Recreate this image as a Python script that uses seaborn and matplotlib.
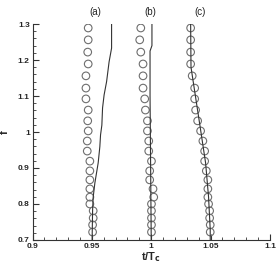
import matplotlib
matplotlib.use("Agg")
import matplotlib.pyplot as plt
import seaborn as sns
import pandas as pd
from matplotlib.ticker import MultipleLocator

sns.set_style("white")
plt.rcParams['font.family'] = ['Liberation Sans', 'DejaVu Sans']

# circle data (shared f levels)
f_circ = [1.289, 1.256, 1.222, 1.189, 1.156, 1.122, 1.092, 1.061, 1.031, 1.003,
          0.975, 0.947, 0.919, 0.892, 0.867, 0.842, 0.819, 0.800, 0.781, 0.761,
          0.742, 0.722]
t_a = [0.9469, 0.9469, 0.9465, 0.9469, 0.9450, 0.9450, 0.9450, 0.9469, 0.9465, 0.9469,
       0.9461, 0.9461, 0.9483, 0.9483, 0.9483, 0.9483, 0.9483, 0.9483, 0.9511, 0.9511,
       0.9506, 0.9506]
t_b = [0.9912, 0.9903, 0.9912, 0.9931, 0.9931, 0.9931, 0.9945, 0.9951, 0.9968, 0.9968,
       0.9979, 0.9979, 1.0002, 0.9987, 0.9987, 1.0015, 1.0021, 1.0002, 1.0002, 1.0002,
       1.0002, 1.0002]
t_c = [1.0332, 1.0332, 1.0332, 1.0332, 1.0345, 1.0366, 1.0366, 1.0374, 1.0391, 1.0416,
       1.0435, 1.0450, 1.0450, 1.0464, 1.0477, 1.0477, 1.0477, 1.0483, 1.0492, 1.0492,
       1.0497, 1.0497]

# line data
f_la = [1.30, 1.233, 1.195, 1.14, 1.103, 1.067, 1.019, 0.992, 0.959, 0.914, 0.886, 0.858, 0.819, 0.783, 0.70]
t_la = [0.9666, 0.9666, 0.9645, 0.9624, 0.9603, 0.9590, 0.9584, 0.9573, 0.9567, 0.9553,
        0.9539, 0.9525, 0.9511, 0.9506, 0.9502]
f_lb = [1.30, 1.24, 1.225, 1.1, 0.9, 0.7]
t_lb = [1.0006, 1.0006, 0.9990, 0.9990, 0.9995, 1.0000]
f_lc = [1.30, 1.18, 0.997, 0.914, 0.819, 0.728, 0.70]
t_lc = [1.0332, 1.0335, 1.0420, 1.0458, 1.0483, 1.0497, 1.0497]

panel_labels = ["(a)", "(b)", "(c)"]
panel_label_x = [0.953, 0.9995, 1.0415]
x_ticks = [0.9, 0.95, 1.0, 1.05, 1.1]
x_ticklabels = ["0.9", "0.95", "1", "1.05", "1.1"]
y_ticks = [0.7, 0.8, 0.9, 1.0, 1.1, 1.2, 1.3]
y_ticklabels = ["0.7", "0.8", "0.9", "1", "1.1", "1.2", "1.3"]

fig = plt.figure(figsize=(2.78, 2.64), dpi=100)
ax = fig.add_axes([0.117, 0.091, 0.854, 0.818])

for tt in (t_a, t_b, t_c):
    d = pd.DataFrame({"t": tt, "f": f_circ})
    sns.scatterplot(data=d, x="t", y="f", ax=ax, marker="o", s=30,
                    facecolors="none", edgecolor="#6e6e6e", linewidth=0.8, legend=False)

for tt, ff in ((t_la, f_la), (t_lb, f_lb), (t_lc, f_lc)):
    d = pd.DataFrame({"t": tt, "f": ff})
    sns.lineplot(data=d, x="t", y="f", ax=ax, sort=False, color="#333333", linewidth=0.8,
                 estimator=None)

ax.set_xlim(0.9, 1.1)
ax.set_ylim(0.7, 1.3)
ax.set_xticks(x_ticks)
ax.set_xticklabels(x_ticklabels, fontsize=6, fontweight="bold")
ax.set_yticks(y_ticks)
ax.set_yticklabels(y_ticklabels, fontsize=6, fontweight="bold")
ax.xaxis.set_minor_locator(MultipleLocator(0.01))
ax.yaxis.set_minor_locator(MultipleLocator(0.02))
ax.tick_params(which="major", direction="in", length=4, width=0.8, color="#333333", pad=2,
               bottom=True, left=True, top=False, right=False)
ax.tick_params(which="minor", direction="in", length=2, width=0.6, color="#333333",
               bottom=True, left=True, top=False, right=False)
for s in ("top", "right"):
    ax.spines[s].set_visible(False)
for s in ("left", "bottom"):
    ax.spines[s].set_color("#333333")
    ax.spines[s].set_linewidth(0.8)

ax.set_xlabel("t/T$_\\mathbf{c}$", fontsize=8, fontweight="bold", labelpad=0)
ax.set_ylabel("f", fontsize=8, fontweight="bold", labelpad=6)

for lab, xx in zip(panel_labels, panel_label_x):
    ax.text(xx, 1.055, lab, transform=ax.get_xaxis_transform(), ha="center", va="center",
            fontsize=7, color="#222222")

fig.savefig("out.png", dpi=100)
